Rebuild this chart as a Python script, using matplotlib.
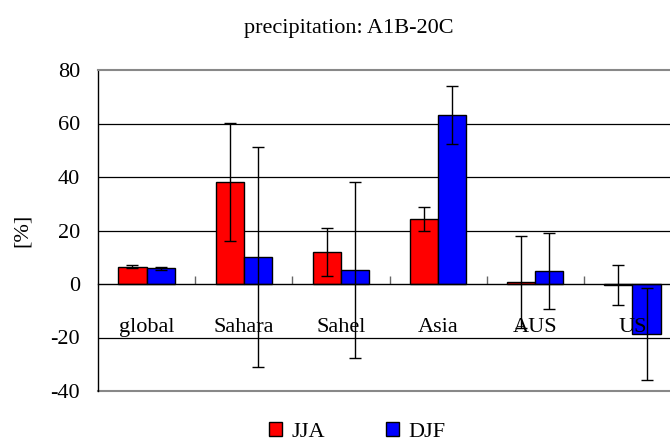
import matplotlib
matplotlib.use("Agg")
import matplotlib.pyplot as plt
from matplotlib.patches import Patch
import numpy as np

plt.rcParams['font.family'] = ['Liberation Serif', 'DejaVu Serif']

regions = ["global", "Sahara", "Sahel", "Asia", "AUS", "US"]
jja = [6.5, 38.2, 12.0, 24.2, 0.7, -0.4]
jja_err = [0.5, 22.0, 8.9, 4.5, 17.3, 7.5]
djf = [5.9, 10.2, 5.2, 63.3, 4.9, -18.6]
djf_err = [0.5, 41.2, 32.8, 10.8, 14.2, 17.2]
yticks = [-40, -20, 0, 20, 40, 60, 80]

FS = 16

fig = plt.figure(figsize=(6.7, 4.41), dpi=100)
ax = fig.add_axes([98 / 670, 50 / 441, 583 / 670, 321 / 441])

x = np.arange(len(regions))
w = 0.29
ax.bar(x - w / 2, jja, w, color="#ff0000", edgecolor="black", linewidth=1, zorder=2)
ax.bar(x + w / 2, djf, w, color="#0000ff", edgecolor="black", linewidth=1, zorder=2)
eb = dict(fmt="none", ecolor="black", elinewidth=1, capsize=4.3, capthick=1, zorder=3)
ax.errorbar(x - w / 2, jja, yerr=jja_err, **eb)
ax.errorbar(x + w / 2, djf, yerr=djf_err, **eb)

ax.set_xlim(-0.5, len(regions) - 0.5)
ax.set_ylim(-40, 80)
ax.set_yticks(yticks)
ax.set_yticklabels([str(v) for v in yticks], fontsize=FS)
ax.tick_params(axis="y", length=0, pad=13)

# horizontal gridlines
for v in [-20, 20, 40, 60]:
    ax.axhline(v, color="black", linewidth=0.9, zorder=0.5)

ax.spines["bottom"].set_position(("data", 0))
ax.spines["bottom"].set_color("black")
ax.spines["bottom"].set_linewidth(1)
ax.spines["left"].set_color("black")
ax.spines["left"].set_linewidth(1)
ax.spines["top"].set_color("#888888")
ax.spines["top"].set_linewidth(1.5)
ax.spines["right"].set_visible(False)
ax.axhline(-40, color="#888888", linewidth=1.5, clip_on=False, zorder=1)

# category names sit just below the zero line, over the bars
ax.set_xticks(x)
ax.set_xticklabels([])
for xi, name in zip(x, regions):
    ax.text(xi, -16.3, name, fontsize=FS, ha="center", va="center", zorder=2.6)
ax.tick_params(axis="x", which="major", length=0)
ax.set_xticks(x[:-1] + 0.5, minor=True)
ax.tick_params(axis="x", which="minor", direction="in", length=5.5, width=1, color="#666666")

fig.text(349 / 670, 1 - 28 / 441, "precipitation: A1B-20C", fontsize=FS,
         ha="center", va="center")
fig.text(22 / 670, 1 - 230 / 441, "[%]", fontsize=FS, rotation=90,
         ha="center", va="center")

handles = [Patch(facecolor="#ff0000", edgecolor="black", linewidth=1, label="JJA"),
           Patch(facecolor="#0000ff", edgecolor="black", linewidth=1, label="DJF")]
fig.legend(handles=handles, loc="center", bbox_to_anchor=(357 / 670, 1 - 432 / 441),
           ncol=2, frameon=False, fontsize=FS, handlelength=0.6, handleheight=0.6,
           handletextpad=0.4, columnspacing=2.75, borderpad=0)

fig.savefig("out.png", dpi=100)
